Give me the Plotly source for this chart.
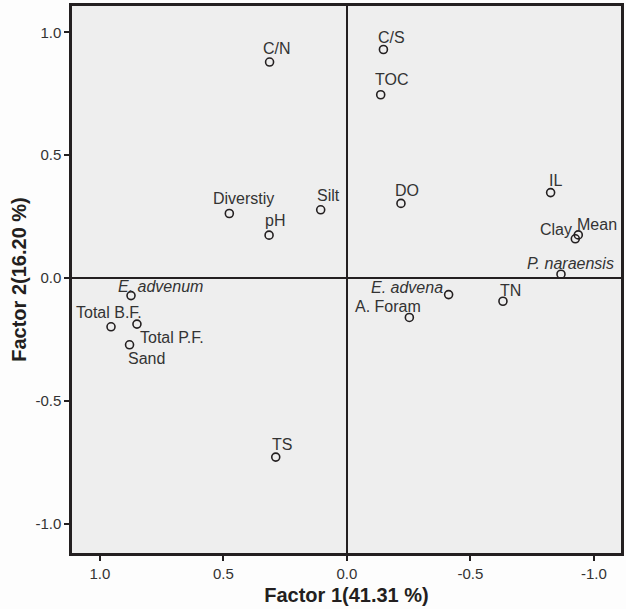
import plotly.graph_objects as go

# ---- data ----
names = ["C/N", "C/S", "TOC", "Diverstiy", "pH", "Silt", "DO", "IL", "Clay", "Mean",
         "P. naraensis", "E. advena", "TN", "A. Foram", "E. advenum",
         "Total B.F.", "Total P.F.", "Sand", "TS"]
factor1 = [0.313, -0.148, -0.137, 0.476, 0.315, 0.106, -0.219, -0.825, -0.925, -0.937,
           -0.867, -0.412, -0.632, -0.253, 0.874, 0.955, 0.850, 0.880, 0.288]
factor2 = [0.879, 0.930, 0.746, 0.263, 0.175, 0.278, 0.304, 0.348, 0.160, 0.176,
           0.016, -0.067, -0.094, -0.160, -0.071, -0.198, -0.187, -0.271, -0.728]
italic_names = {"P. naraensis", "E. advena", "E. advenum"}
tick_vals = [1.0, 0.5, 0.0, -0.5, -1.0]
tick_text = ["1.0", "0.5", "0.0", "-0.5", "-1.0"]
x_title = "Factor 1(41.31 %)"
y_title = "Factor 2(16.20 %)"

# ---- label placement (style: anchor, xshift px, yshift px) ----
label_style = {
    "C/N": ("center", 7, 14),
    "C/S": ("center", 8, 12),
    "TOC": ("center", 11, 15),
    "Diverstiy": ("center", 14, 15),
    "pH": ("center", 6, 15),
    "Silt": ("center", 8, 14),
    "DO": ("center", 6, 13),
    "IL": ("center", 5, 12),
    "Clay": ("right", -1, 9),
    "Mean": ("left", -3, 10),
    "P. naraensis": ("right", 55, 11),
    "E. advena": ("right", -4, 7),
    "TN": ("center", 8, 11),
    "A. Foram": ("center", -21, 11),
    "E. advenum": ("left", -15, 9),
    "Total B.F.": ("center", -2, 14),
    "Total P.F.": ("left", 1, -13),
    "Sand": ("left", -4, -14),
    "TS": ("center", 6, 13),
}

DARK = "#231f20"
TXT = "#333333"
FONT = "Liberation Sans, Arial, sans-serif"

fig = go.Figure()
fig.add_trace(go.Scatter(
    x=factor1, y=factor2, mode="markers",
    marker=dict(symbol="circle-open", size=8, color=DARK, line=dict(width=1.6, color=DARK)),
    hoverinfo="text", text=names, showlegend=False,
))

for n, xv, yv in zip(names, factor1, factor2):
    anchor, dx, dy = label_style[n]
    txt = f"<i>{n}</i>" if n in italic_names else n
    fig.add_annotation(x=xv, y=yv, xref="x", yref="y", text=txt, showarrow=False,
                       xanchor=anchor, yanchor="middle", xshift=dx, yshift=dy,
                       font=dict(family=FONT, size=16, color=TXT))

axis_common = dict(
    showgrid=False, showline=True, mirror=True, linewidth=2.5, linecolor=DARK,
    ticks="outside", ticklen=5, tickwidth=2, tickcolor=DARK,
    tickfont=dict(family=FONT, size=15, color=TXT),
    zeroline=True, zerolinecolor=DARK, zerolinewidth=2.2,
    tickvals=tick_vals, ticktext=tick_text,
)

fig.update_xaxes(range=[1.113, -1.11],
                 title=dict(text=f"<b>{x_title}</b>", standoff=8,
                            font=dict(family=FONT, size=20, color=DARK)),
                 **axis_common)
fig.update_yaxes(range=[-1.118, 1.107],
                 title=dict(text=f"<b>{y_title}</b>", standoff=4,
                            font=dict(family=FONT, size=20, color=DARK)),
                 **axis_common)

fig.update_layout(
    width=626, height=609,
    margin=dict(l=72, r=2, t=6, b=56),
    plot_bgcolor="#eeeeee", paper_bgcolor="#fdfdfd",
)

fig.write_html("out.html", config={"displayModeBar": False},
               post_script="document.body.style.margin='0';document.body.style.overflow='hidden';")
